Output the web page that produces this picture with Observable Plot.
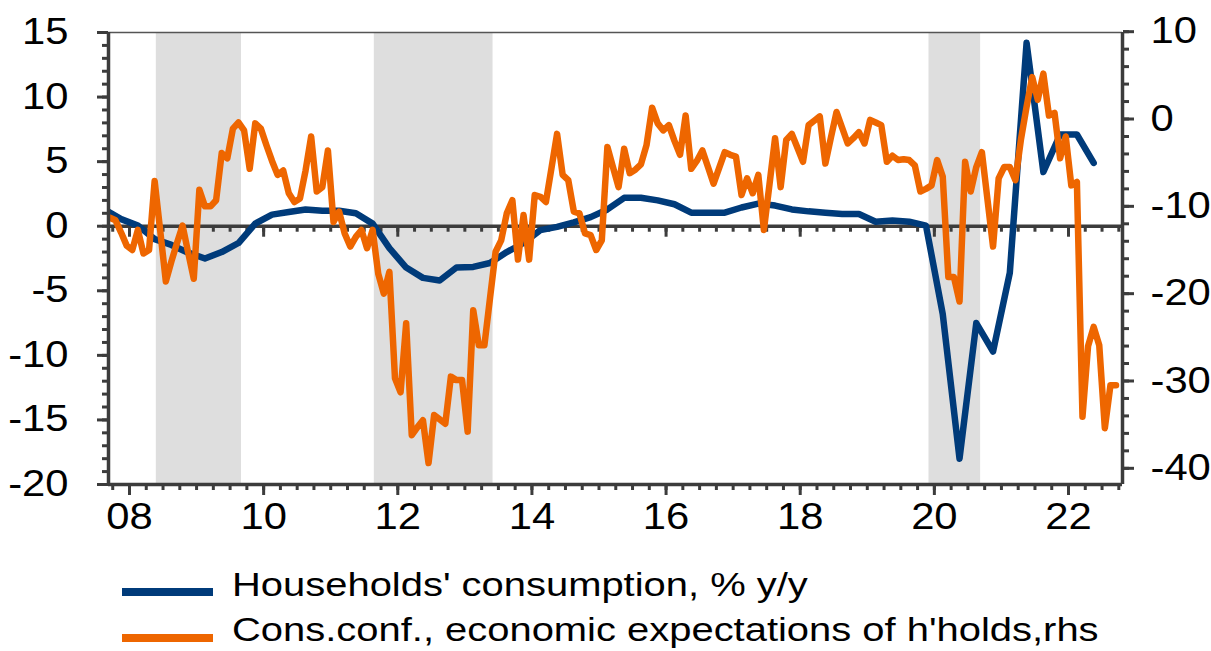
<!DOCTYPE html>
<html><head><meta charset="utf-8">
<script src="https://cdn.jsdelivr.net/npm/d3@7"></script>
<script src="https://cdn.jsdelivr.net/npm/@observablehq/plot@0.6"></script>
<style>
body{margin:0;background:#fff;}
#wrap{position:relative;width:1211px;height:651px;overflow:hidden;font-family:"Liberation Sans",Arial,sans-serif;background:#fff;}
#wrap svg{position:absolute;left:0;top:0;}
.lg-line{position:absolute;height:8px;}
.lg-text{position:absolute;font-size:33px;line-height:33px;white-space:nowrap;transform:scaleX(1.21);transform-origin:0 50%;color:#000;}
</style></head><body><div id="wrap"></div>
<script>
// ---- data ----
const xTickYears = [2008, 2010, 2012, 2014, 2016, 2018, 2020, 2022];
const leftTicks = [-20, -15, -10, -5, 0, 5, 10, 15];
const rightTicks = [-40, -30, -20, -10, 0, 10];
const shadedStart = [2008.4, 2011.65, 2019.92];
const shadedEnd = [2009.67, 2013.42, 2020.69];
const seriesNames = ["Households' consumption, % y/y", "Cons.conf., economic expectations of h'holds,rhs"];

// quarterly, from 2007 Q3 to 2022 Q2
const consumptionStart = 2007.5;
const consumption = [
  1.3, 0.55,
  0.05, -1.0, -1.45, -2.05,
  -2.5, -2.0, -1.3, 0.2,
  0.9, 1.1, 1.3, 1.2,
  1.2, 1.0, 0.2, -1.7,
  -3.2, -4.0, -4.2, -3.2,
  -3.15, -2.85, -2.0, -1.3,
  -0.3, -0.05, 0.3, 0.7,
  1.3, 2.2, 2.2, 2.0,
  1.7, 1.05, 1.05, 1.05,
  1.45, 1.75, 1.6, 1.3,
  1.15, 1.05, 0.95, 0.95,
  0.35, 0.45, 0.35, 0.05,
  -6.8, -18.0, -7.5, -9.7,
  -3.6, 14.2, 4.2, 7.1,
  7.1, 4.9
];

// monthly, from Sep 2007 to Sep 2022
const confidenceStart = [2007, 9];
const confidence = [
  -11.3, -11.6, -13.0, -14.5,
  -15.0, -12.7, -15.4, -15.0, -7.1, -12.8, -18.6, -16.3, -14.2, -12.2, -15.3, -18.3,
  -8.1, -10.0, -10.0, -9.3, -3.9, -4.5, -1.1, -0.4, -1.3, -5.7, -0.5, -1.1,
  -3.0, -4.8, -6.4, -5.9, -8.5, -9.5, -9.1, -5.9, -2.0, -8.3, -7.8, -3.6,
  -11.8, -10.6, -13.1, -14.6, -13.5, -12.7, -14.8, -12.7, -17.7, -20.0, -17.5, -29.7,
  -31.3, -23.4, -36.2, -35.3, -34.5, -39.4, -33.9, -34.4, -34.9, -29.5, -29.9, -29.9,
  -35.8, -21.9, -25.9, -25.9, -20.5, -15.2, -13.9, -10.8, -9.3, -16.1, -11.0, -16.1,
  -8.7, -8.9, -9.5, -5.6, -1.7, -6.4, -7.0, -10.6, -10.8, -13.1, -13.3, -15.0,
  -13.9, -3.2, -5.5, -7.8, -3.4, -6.2, -5.8, -5.2, -3.0, 1.3, -0.5, -1.3,
  -0.7, -2.5, -4.1, 0.4, -5.7, -4.8, -3.6, -5.5, -7.4, -5.6, -3.8, -4.1,
  -4.3, -8.7, -6.8, -8.5, -6.4, -12.7, -7.5, -2.2, -7.8, -2.4, -1.7, -3.3,
  -4.9, -0.7, -0.2, 0.3, -5.1, -2.1, 0.8, -1.0, -2.8, -2.2, -1.5, -2.8,
  -0.1, -0.4, -0.7, -4.9, -4.2, -4.7, -4.6, -4.7, -5.3, -8.3, -8.0, -7.6,
  -4.7, -6.6, -18.1, -18.1, -20.9, -4.9, -8.3, -5.5, -3.8, -9.2, -14.6, -6.8,
  -5.5, -5.5, -7.0, -2.3, 1.4, 4.8, 2.2, 5.2, 0.4, 0.7, -4.5, -2.0,
  -7.6, -7.2, -34.1, -26.0, -23.8, -25.9, -35.4, -30.5, -30.5
];

// ---- styling / scales ----
const BLUE = "#003b7a", ORANGE = "#ee6600", BAND = "#dedede", AX = "#3c3c3c";
const xDomain = [2007.687, 2022.805];
const yDomain = [-20, 15];
const rA = 0.6762, rB = 8.301;          // right axis -> left axis units
const toLeft = r => rB + rA * r;
const fromLeft = l => Math.round((l - rB) / rA);
const pxPerUnit = 452 / 35;

const leftMinor = d3.range(-20, 15.01, 1);
const rightMinor = d3.range(-40, 10.01, 2).map(toLeft);
const xMinor = d3.range(2007.75, 2022.8, 0.25);

const blueData = consumption.map((v, i) => ({t: consumptionStart + i * 0.25 + 0.125, v}));
const orangeData = confidence.map((v, i) => ({t: confidenceStart[0] + (confidenceStart[1] - 1 + i) / 12 + 1 / 24, v}));
const bands = shadedStart.map((s, i) => ({s, e: shadedEnd[i]}));

const axOpts = {stroke: AX, strokeWidth: 3, label: null};
const svg = Plot.plot({
  width: 1211, height: 545,
  marginLeft: 108, marginRight: 89, marginTop: 32, marginBottom: 61,
  x: {type: "linear", domain: xDomain, axis: null, label: null},
  y: {type: "linear", domain: yDomain, axis: null, label: null},
  style: {fontFamily: "'Liberation Sans', Arial, sans-serif", background: "white", color: "#000", overflow: "visible"},
  marks: [
    Plot.rect(bands, {x1: "s", x2: "e", fill: BAND}),
    Plot.ruleY([0], {stroke: AX, strokeWidth: 3.5}),
    Plot.ruleX(xMinor, {x: d => d, y1: 0, y2: -6 / pxPerUnit, stroke: AX, strokeWidth: 3}),
    Plot.ruleX(xTickYears, {x: d => d, y1: 0, y2: -11 / pxPerUnit, stroke: AX, strokeWidth: 3}),
    Plot.line(blueData, {x: "t", y: "v", stroke: BLUE, strokeWidth: 6.5, strokeLinejoin: "round", clip: true}),
    Plot.line(orangeData, {x: "t", y: d => toLeft(d.v), stroke: ORANGE, strokeWidth: 6.5, strokeLinejoin: "round", clip: true}),
    Plot.ruleY([15], {stroke: "#555", strokeWidth: 1.5}),
    Plot.ruleY([-20], {stroke: AX, strokeWidth: 3.5}),
    Plot.ruleX([xDomain[0]], {stroke: AX, strokeWidth: 3.5}),
    Plot.ruleX([xDomain[1]], {stroke: AX, strokeWidth: 3.5}),
    Plot.axisY(leftMinor, {anchor: "left", tickSize: 6, tickFormat: () => "", ...axOpts}),
    Plot.axisY(leftTicks, {anchor: "left", tickSize: 11, tickPadding: 29, tickFormat: d => String(d), fontSize: 36, fill: "#000", ...axOpts}),
    Plot.axisY(rightMinor, {anchor: "right", tickSize: 6, tickFormat: () => "", ...axOpts}),
    Plot.axisY(rightTicks.map(toLeft), {anchor: "right", tickSize: 11, tickPadding: 17, tickFormat: d => String(fromLeft(d)), fontSize: 36, fill: "#000", ...axOpts}),
    Plot.axisX(xMinor, {anchor: "bottom", tickSize: 6, tickFormat: () => "", ...axOpts}),
    Plot.axisX(xTickYears, {anchor: "bottom", tickSize: 11, tickPadding: 8, tickFormat: d => String(d).slice(2), fontSize: 36, fill: "#000", ...axOpts})
  ]
});

// widen tick labels horizontally (source text is horizontally stretched)
svg.querySelectorAll('[aria-label*="tick label"] text').forEach(t => {
  let x = parseFloat(t.getAttribute("x"));
  if (!isFinite(x)) x = 0;
  const old = t.getAttribute("transform") || "";
  t.setAttribute("transform", `${old} translate(${x},0) scale(1.16,1) translate(${-x},0)`);
});

const wrap = document.getElementById("wrap");
wrap.appendChild(svg);

// legend
const legendColors = [BLUE, ORANGE];
const lineTops = [588, 634];
const textTops = [568, 613];
seriesNames.forEach((name, i) => {
  const ln = document.createElement("div");
  ln.className = "lg-line";
  ln.style.left = "122px"; ln.style.width = "91px";
  ln.style.top = lineTops[i] + "px";
  ln.style.background = legendColors[i];
  wrap.appendChild(ln);
  const tx = document.createElement("div");
  tx.className = "lg-text";
  tx.style.left = "232px";
  tx.style.top = textTops[i] + "px";
  tx.textContent = name;
  wrap.appendChild(tx);
});
</script></body></html>
